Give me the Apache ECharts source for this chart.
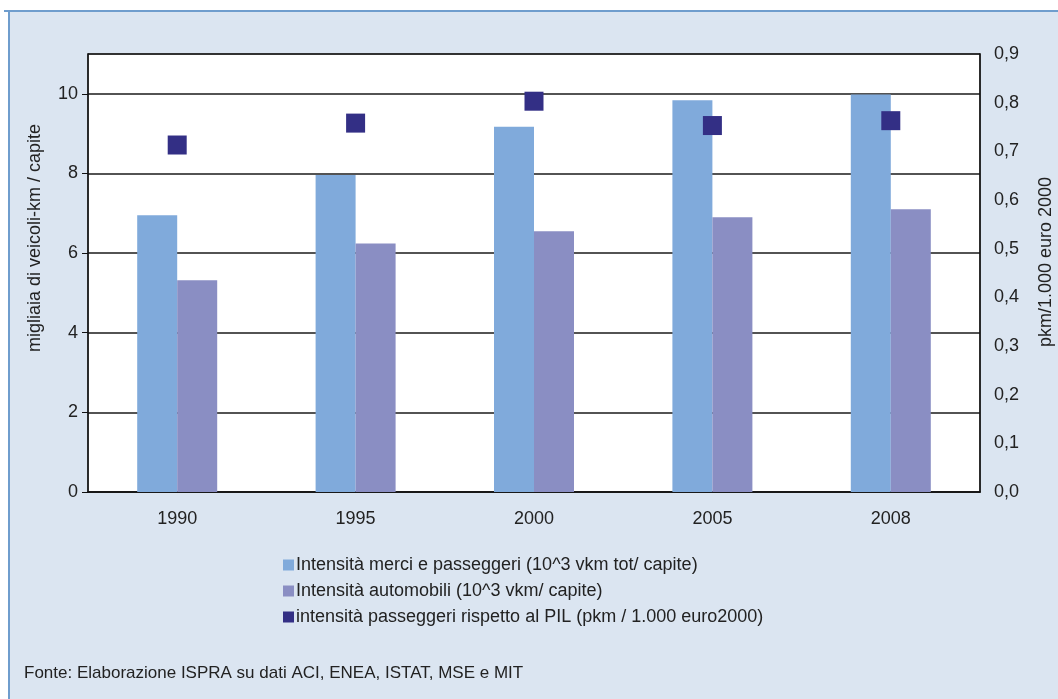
<!DOCTYPE html>
<html>
<head>
<meta charset="utf-8">
<script src="https://cdn.jsdelivr.net/npm/echarts@6/dist/echarts.min.js"></script>
<style>
html,body{margin:0;padding:0;background:#fff;}
#c{width:1058px;height:699px;}
</style>
</head>
<body>
<div id="c"></div>
<script>
const categories = ['1990', '1995', '2000', '2005', '2008'];
const merciPasseggeri = [6.95, 7.96, 9.17, 9.84, 9.98];
const automobili = [5.32, 6.24, 6.55, 6.90, 7.10];
const passeggeriPIL = [0.713, 0.758, 0.803, 0.753, 0.763];
const seriesNames = [
  'Intensità merci e passeggeri (10^3 vkm tot/ capite)',
  'Intensità automobili (10^3 vkm/ capite)',
  'intensità passeggeri rispetto al PIL (pkm / 1.000 euro2000)'
];
const leftAxisName = 'migliaia di veicoli-km / capite';
const rightAxisName = 'pkm/1.000 euro 2000';
const sourceText = 'Fonte: Elaborazione ISPRA su dati ACI, ENEA, ISTAT, MSE e MIT';

const FONT = '"Liberation Sans", Arial, sans-serif';
const chart = echarts.init(document.getElementById('c'));
chart.setOption({
  animation: false,
  backgroundColor: '#ffffff',
  textStyle: {fontFamily: FONT},
  graphic: [
    {type: 'rect', z: -10, shape: {x: 9, y: 10, width: 1049, height: 689}, style: {fill: '#dbe5f1'}},
    {type: 'line', z: -9, shape: {x1: 4, y1: 11, x2: 1058, y2: 11}, style: {stroke: '#6f9dcd', lineWidth: 2}},
    {type: 'line', z: -9, shape: {x1: 9, y1: 11, x2: 9, y2: 699}, style: {stroke: '#6f9dcd', lineWidth: 2}},
    {type: 'text', x: 24, y: 673, style: {text: sourceText, font: '17px ' + FONT, fill: '#222', textVerticalAlign: 'middle'}},
    {type: 'text', x: 35, y: 238, rotation: Math.PI / 2,
      style: {text: leftAxisName, font: '18px ' + FONT, fill: '#222', textAlign: 'center', textVerticalAlign: 'middle'}},
    {type: 'text', x: 1046, y: 262, rotation: Math.PI / 2,
      style: {text: rightAxisName, font: '18px ' + FONT, fill: '#222', textAlign: 'center', textVerticalAlign: 'middle'}}
  ],
  grid: {
    left: 88, right: 78, top: 54, bottom: 207,
    outerBoundsMode: 'none', containLabel: false,
    show: true, backgroundColor: '#ffffff', borderColor: '#555', borderWidth: 1.5
  },
  legend: {
    orient: 'vertical', left: 278, top: 551, itemGap: 8,
    itemWidth: 11, itemHeight: 11,
    textStyle: {fontSize: 18, color: '#222', fontFamily: FONT, padding: [0, 0, 0, -3]},
    data: [
      {name: seriesNames[0], icon: 'rect'},
      {name: seriesNames[1], icon: 'rect'},
      {name: seriesNames[2], icon: 'rect'}
    ]
  },
  xAxis: {
    type: 'category', data: categories,
    axisLine: {lineStyle: {color: '#111', width: 1.5}},
    axisTick: {show: false},
    axisLabel: {fontSize: 18, color: '#222', margin: 18, fontFamily: FONT}
  },
  yAxis: [
    {
      type: 'value', min: 0, max: 11, interval: 2, position: 'left',
      axisLine: {show: true, lineStyle: {color: '#111', width: 1.5}},
      axisTick: {show: true, length: 6, lineStyle: {color: '#111'}},
      axisLabel: {fontSize: 18, color: '#222', margin: 10, showMaxLabel: false, fontFamily: FONT},
      splitLine: {show: true, lineStyle: {color: '#1a1a1a', width: 1.5}}
    },
    {
      type: 'value', min: 0, max: 0.9, interval: 0.1, position: 'right',
      axisLine: {show: true, lineStyle: {color: '#111', width: 1.5}},
      axisTick: {show: false},
      axisLabel: {fontSize: 18, color: '#222', margin: 14, fontFamily: FONT,
        formatter: v => v.toFixed(1).replace('.', ',')},
      splitLine: {show: false}
    }
  ],
  series: [
    {name: seriesNames[0], type: 'bar', yAxisIndex: 0, data: merciPasseggeri,
      barWidth: 40, barGap: '0%', itemStyle: {color: '#80aadb'}},
    {name: seriesNames[1], type: 'bar', yAxisIndex: 0, data: automobili,
      barWidth: 40, barGap: '0%', itemStyle: {color: '#8a8ec3'}},
    {name: seriesNames[2], type: 'scatter', yAxisIndex: 1, data: passeggeriPIL,
      symbol: 'rect', symbolSize: 19, itemStyle: {color: '#332f85', opacity: 1}, z: 5}
  ]
});
</script>
</body>
</html>
